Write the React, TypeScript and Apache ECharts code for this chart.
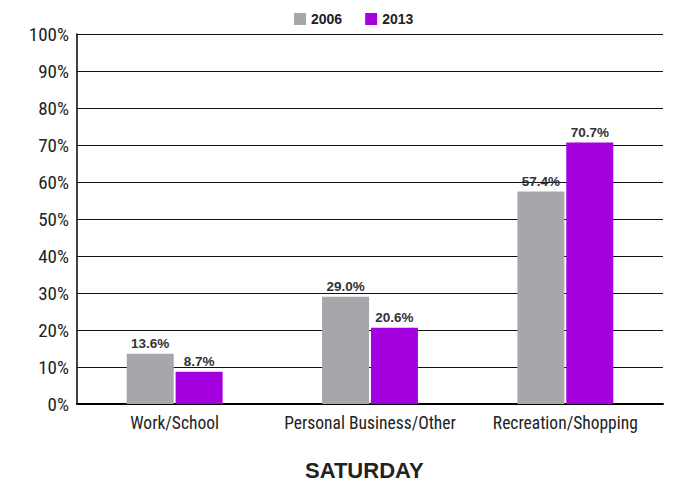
import React, { useEffect, useRef } from "react";
import * as echarts from "echarts";

const categories = ["Work/School", "Personal Business/Other", "Recreation/Shopping"];
const series2006 = [13.6, 29.0, 57.4];
const series2013 = [8.7, 20.6, 70.7];
const seriesNames = ["2006", "2013"];
const title = "SATURDAY";

const NARROW = "'Liberation Sans Narrow', 'Roboto Condensed', 'Open Sans', sans-serif";
const WIDE = "'Liberation Sans', Arial, sans-serif";

export default function App() {
  const ref = useRef<HTMLDivElement>(null);
  useEffect(() => {
    document.body.style.margin = "0";
    if (!ref.current) return;
    const chart = echarts.init(ref.current, undefined, { renderer: "svg" });
    const labelCfg = {
      show: true,
      position: "top",
      formatter: (p: any) => p.value.toFixed(1) + "%",
      fontFamily: WIDE,
      fontWeight: "bold",
      fontSize: 13.5,
      color: "#333",
      distance: 3,
    };
    chart.setOption({
      animation: false,
      textStyle: { fontFamily: NARROW },
      title: {
        text: title,
        left: 305,
        top: 459,
        padding: 0,
        textStyle: { fontFamily: WIDE, fontWeight: "bold", fontSize: 22, color: "#222" },
      },
      legend: {
        data: seriesNames,
        top: 7,
        left: 289,
        itemWidth: 12,
        itemHeight: 12,
        itemGap: 23,
        icon: "rect",
        textStyle: { fontFamily: WIDE, fontWeight: "bold", fontSize: 14, color: "#222" },
      },
      grid: { left: 77, right: 14, top: 34, bottom: 79, containLabel: false },
      xAxis: {
        type: "category",
        data: categories,
        axisLine: { lineStyle: { color: "#000", width: 2 } },
        axisTick: { show: false },
        axisLabel: { fontFamily: NARROW, fontSize: 17.5, color: "#222", margin: 10, interval: 0 },
      },
      yAxis: {
        type: "value",
        min: 0,
        max: 100,
        interval: 10,
        axisLine: { show: true, lineStyle: { color: "#000", width: 1.5 } },
        axisTick: { show: false },
        splitLine: { lineStyle: { color: "#111", width: 1 } },
        axisLabel: {
          fontFamily: NARROW,
          fontSize: 19,
          color: "#222",
          margin: 8,
          formatter: (v: number) => v + "%",
        },
      },
      series: [
        {
          name: seriesNames[0],
          type: "bar",
          data: series2006,
          barWidth: 47,
          barGap: "4%",
          itemStyle: { color: "#a6a7ab" },
          label: labelCfg,
        },
        {
          name: seriesNames[1],
          type: "bar",
          data: series2013,
          barWidth: 47,
          itemStyle: { color: "#a500e0" },
          label: labelCfg,
        },
      ],
    });
    return () => chart.dispose();
  }, []);
  return <div ref={ref} style={{ width: 677, height: 483 }} />;
}
